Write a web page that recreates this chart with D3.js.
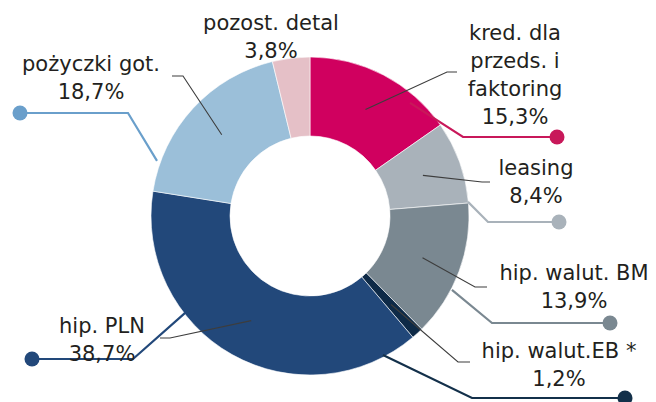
<!DOCTYPE html>
<html>
<head>
<meta charset="utf-8">
<script src="https://cdn.jsdelivr.net/npm/d3@7/dist/d3.min.js"></script>
<style>
  html, body { margin: 0; padding: 0; background: #fff; }
  svg { display: block; }
  text { font-family: "DejaVu Sans", Verdana, sans-serif; font-size: 21px; fill: #231f20; }
</style>
</head>
<body>
<svg id="chart" width="656" height="402"></svg>
<script>
// ---- data ----
const categories = ["kred. dla przeds. i faktoring", "leasing", "hip. walut. BM", "hip. walut.EB *", "hip. PLN", "pożyczki got.", "pozost. detal"];
const values = [15.3, 8.4, 13.9, 1.2, 38.7, 18.7, 3.8];
const labelLines = [["kred. dla", "przeds. i", "faktoring", "15,3%"], ["leasing", "8,4%"], ["hip. walut. BM", "13,9%"], ["hip. walut.EB *", "1,2%"], ["hip. PLN", "38,7%"], ["pożyczki got.", "18,7%"], ["pozost. detal", "3,8%"]];
const sliceColors = ["#d0005f", "#a9b2ba", "#7a8891", "#0e2a47", "#22487a", "#9bbfd9", "#e5c0c7"];
const markerColors = ["#c8185a", "#a9b2ba", "#7a8891", "#13304a", "#22487a", "#6a9fcb", null];

// ---- layout ----
const cx = 310, cy = 216, rOuter = 159, rInner = 80, rLeader = 120;
// label block: center x, first baseline
const labelPos = [[515, 40], [536, 175], [574, 280], [559, 358], [102, 333], [91, 71], [271, 30]];
const lineH = 28;
// gray leader: elbow point and end x
const leaderElbow = [[447, 72, 457], [482, 182, 490], [475, 287, 487], [458, 362, 470], [170, 338, 160], [183, 76, 172], null];
// colored marker line: start (angle deg, radius), elbow, dot
const markerStart = [[41.5, 151], [84.9, 158.6], [117.5, 160], [152.3, 157], [232.2, 158], [289.8, 162.6], null];
const markerElbow = [[463, 137], [488, 222], [492, 323], [472, 398], [133, 359], [128, 113], null];
const markerDot = [[557, 137], [559, 222], [610, 323], [625, 398], [32, 359], [20, 113], null];

const svg = d3.select("#chart");
const g = svg.append("g").attr("transform", `translate(${cx},${cy})`);

const pie = d3.pie().sort(null).value(d => d).startAngle(0).endAngle(2 * Math.PI);
const arcs = pie(values);
const arc = d3.arc().innerRadius(rInner).outerRadius(rOuter);

g.selectAll("path.slice").data(arcs).join("path")
  .attr("class", "slice")
  .attr("d", arc)
  .attr("fill", (d, i) => sliceColors[i])
  .attr("stroke", "#fff")
  .attr("stroke-width", 0.6);

const polar = (angDeg, r) => {
  const a = angDeg * Math.PI / 180;
  return [cx + r * Math.sin(a), cy - r * Math.cos(a)];
};

// colored marker lines with dots
arcs.forEach((d, i) => {
  if (!markerStart[i]) return;
  const s = polar(markerStart[i][0], markerStart[i][1]);
  const pts = [s, markerElbow[i], markerDot[i]];
  svg.append("path")
    .attr("d", d3.line()(pts))
    .attr("fill", "none")
    .attr("stroke", markerColors[i])
    .attr("stroke-width", 2.2);
  svg.append("circle")
    .attr("cx", markerDot[i][0]).attr("cy", markerDot[i][1])
    .attr("r", 7.5)
    .attr("fill", markerColors[i]);
});

// gray leader lines from mid-ring
arcs.forEach((d, i) => {
  if (!leaderElbow[i]) return;
  const mid = (d.startAngle + d.endAngle) / 2 * 180 / Math.PI;
  const s = polar(mid, rLeader);
  const e = leaderElbow[i];
  svg.append("path")
    .attr("d", d3.line()([s, [e[0], e[1]], [e[2], e[1]]]))
    .attr("fill", "none")
    .attr("stroke", "#3d3d3d")
    .attr("stroke-width", 1.1);
});

// labels
labelLines.forEach((lines, i) => {
  const t = svg.append("text")
    .attr("text-anchor", "middle")
    .attr("x", labelPos[i][0])
    .attr("y", labelPos[i][1]);
  lines.forEach((ln, j) => {
    t.append("tspan")
      .attr("x", labelPos[i][0])
      .attr("y", labelPos[i][1] + j * lineH)
      .text(ln);
  });
});
</script>
</body>
</html>
